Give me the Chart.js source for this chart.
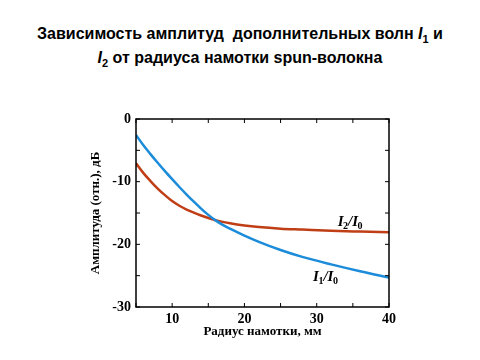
<!DOCTYPE html>
<html>
<head>
<meta charset="utf-8">
<script src="https://cdn.jsdelivr.net/npm/chart.js@4"></script>
<style>
  body { margin: 0; background: #fff; }
  .wrap { position: relative; width: 480px; height: 360px; }
  .title {
    position: absolute; left: 0; top: 22px; width: 480px;
    text-align: center; font: bold 16px "Liberation Sans", sans-serif;
    line-height: 24px; color: #000;
  }
  .title sub { font-size: 11px; font-style: normal; line-height: 0; }
  canvas { position: absolute; left: 0; top: 0; }
</style>
</head>
<body>
<div class="wrap">
  <div class="title">Зависимость амплитуд&nbsp; дополнительных волн <i>I</i><sub>1</sub> и<br><i>I</i><sub>2</sub> от радиуса намотки spun-волокна</div>
  <canvas id="chart" width="480" height="360"></canvas>
</div>
<script>
// radius of winding, mm
const radius = [5, 6, 7, 8, 9, 10, 11, 12, 13, 14, 15, 16, 17, 18, 20, 22, 25, 28, 32, 36, 40];
// I1/I0 (blue), dB
const amp1 = [-2.55, -4.15, -5.6, -6.98, -8.32, -9.6, -10.85, -12.05, -13.2, -14.3, -15.3, -16.18, -16.9, -17.5, -18.6, -19.6, -20.9, -22.0, -23.2, -24.3, -25.3];
// I2/I0 (red), dB
const amp2 = [-7.07, -8.6, -9.9, -11.1, -12.15, -13.1, -13.85, -14.45, -14.95, -15.4, -15.8, -16.15, -16.42, -16.65, -17.0, -17.25, -17.5, -17.65, -17.85, -17.97, -18.07];

// curve labels: [x, y] in data units (baseline start)
const label1Pos = [29.5, -25.9];
const label2Pos = [32.9, -17.1];

const serif = "'Liberation Serif', 'DejaVu Serif', serif";

const toPoints = (xs, ys) => xs.map((x, i) => ({ x: x, y: ys[i] }));

// frame with inward ticks + the I/I0 labels
const framePlugin = {
  id: "frame",
  afterDraw(chart) {
    const { ctx, chartArea: a, scales } = chart;
    ctx.save();
    ctx.strokeStyle = "#000";
    ctx.lineWidth = 1.5;
    ctx.strokeRect(a.left, a.top, a.right - a.left, a.bottom - a.top);
    ctx.lineWidth = 1;
    scales.x.ticks.forEach((t) => {
      const px = scales.x.getPixelForValue(t.value);
      ctx.beginPath();
      ctx.moveTo(px, a.bottom); ctx.lineTo(px, a.bottom - 4);
      ctx.moveTo(px, a.top); ctx.lineTo(px, a.top + 4);
      ctx.stroke();
    });
    scales.y.ticks.forEach((t) => {
      const py = scales.y.getPixelForValue(t.value);
      ctx.beginPath();
      ctx.moveTo(a.left, py); ctx.lineTo(a.left + 4, py);
      ctx.moveTo(a.right, py); ctx.lineTo(a.right - 4, py);
      ctx.stroke();
    });

    const drawLabel = (pos, sub) => {
      let x = scales.x.getPixelForValue(pos[0]);
      const y = scales.y.getPixelForValue(pos[1]);
      ctx.fillStyle = "#000";
      ctx.textBaseline = "alphabetic";
      ctx.textAlign = "left";
      const parts = [["I", "bold italic 15px", 0], [sub, "bold 10px", 3], ["/I", "bold italic 15px", 0], ["0", "bold 10px", 3]];
      parts.forEach(([txt, f, dy]) => {
        ctx.font = f + " " + serif;
        ctx.fillText(txt, x, y + dy);
        x += ctx.measureText(txt).width - (dy ? 0 : 0.5);
      });
    };
    drawLabel(label2Pos, "2");
    drawLabel(label1Pos, "1");
    ctx.restore();
  },
};

new Chart(document.getElementById("chart"), {
  type: "line",
  data: {
    datasets: [
      {
        label: "I1/I0",
        data: toPoints(radius, amp1),
        borderColor: "rgb(28, 140, 218)",
        borderWidth: 2.5,
        pointRadius: 0,
        cubicInterpolationMode: "monotone",
      },
      {
        label: "I2/I0",
        data: toPoints(radius, amp2),
        borderColor: "rgb(192, 62, 22)",
        borderWidth: 2.5,
        pointRadius: 0,
        cubicInterpolationMode: "monotone",
      },
    ],
  },
  plugins: [framePlugin],
  options: {
    responsive: false,
    animation: false,
    layout: { padding: { left: 88, right: 91, top: 119, bottom: 21 } },
    plugins: { legend: { display: false }, tooltip: { enabled: false } },
    scales: {
      x: {
        type: "linear",
        min: 5,
        max: 40,
        afterFit: (s) => { s.height = 32; },
        grid: { display: false, drawTicks: false },
        border: { display: false },
        ticks: {
          stepSize: 5,
          autoSkip: false,
          maxRotation: 0,
          padding: 4,
          color: "#000",
          font: { family: serif, size: 14, weight: "bold" },
          callback: (v) => (v % 10 === 0 ? v : ""),
        },
        title: {
          display: true,
          text: "Радиус намотки, мм",
          color: "#000",
          padding: 0,
          font: { family: serif, size: 13, weight: "bold" },
        },
      },
      y: {
        min: -30,
        max: 0,
        afterFit: (s) => { s.width = 48; },
        grid: { display: false, drawTicks: false },
        border: { display: false },
        ticks: {
          stepSize: 5,
          autoSkip: false,
          padding: 5,
          color: "#000",
          font: { family: serif, size: 14, weight: "bold" },
          callback: (v) => (v % 10 === 0 ? v : ""),
        },
        title: {
          display: true,
          text: "Амплитуда (отн.), дБ",
          color: "#000",
          padding: 0,
          font: { family: serif, size: 13, weight: "bold" },
        },
      },
    },
  },
});
</script>
</body>
</html>
